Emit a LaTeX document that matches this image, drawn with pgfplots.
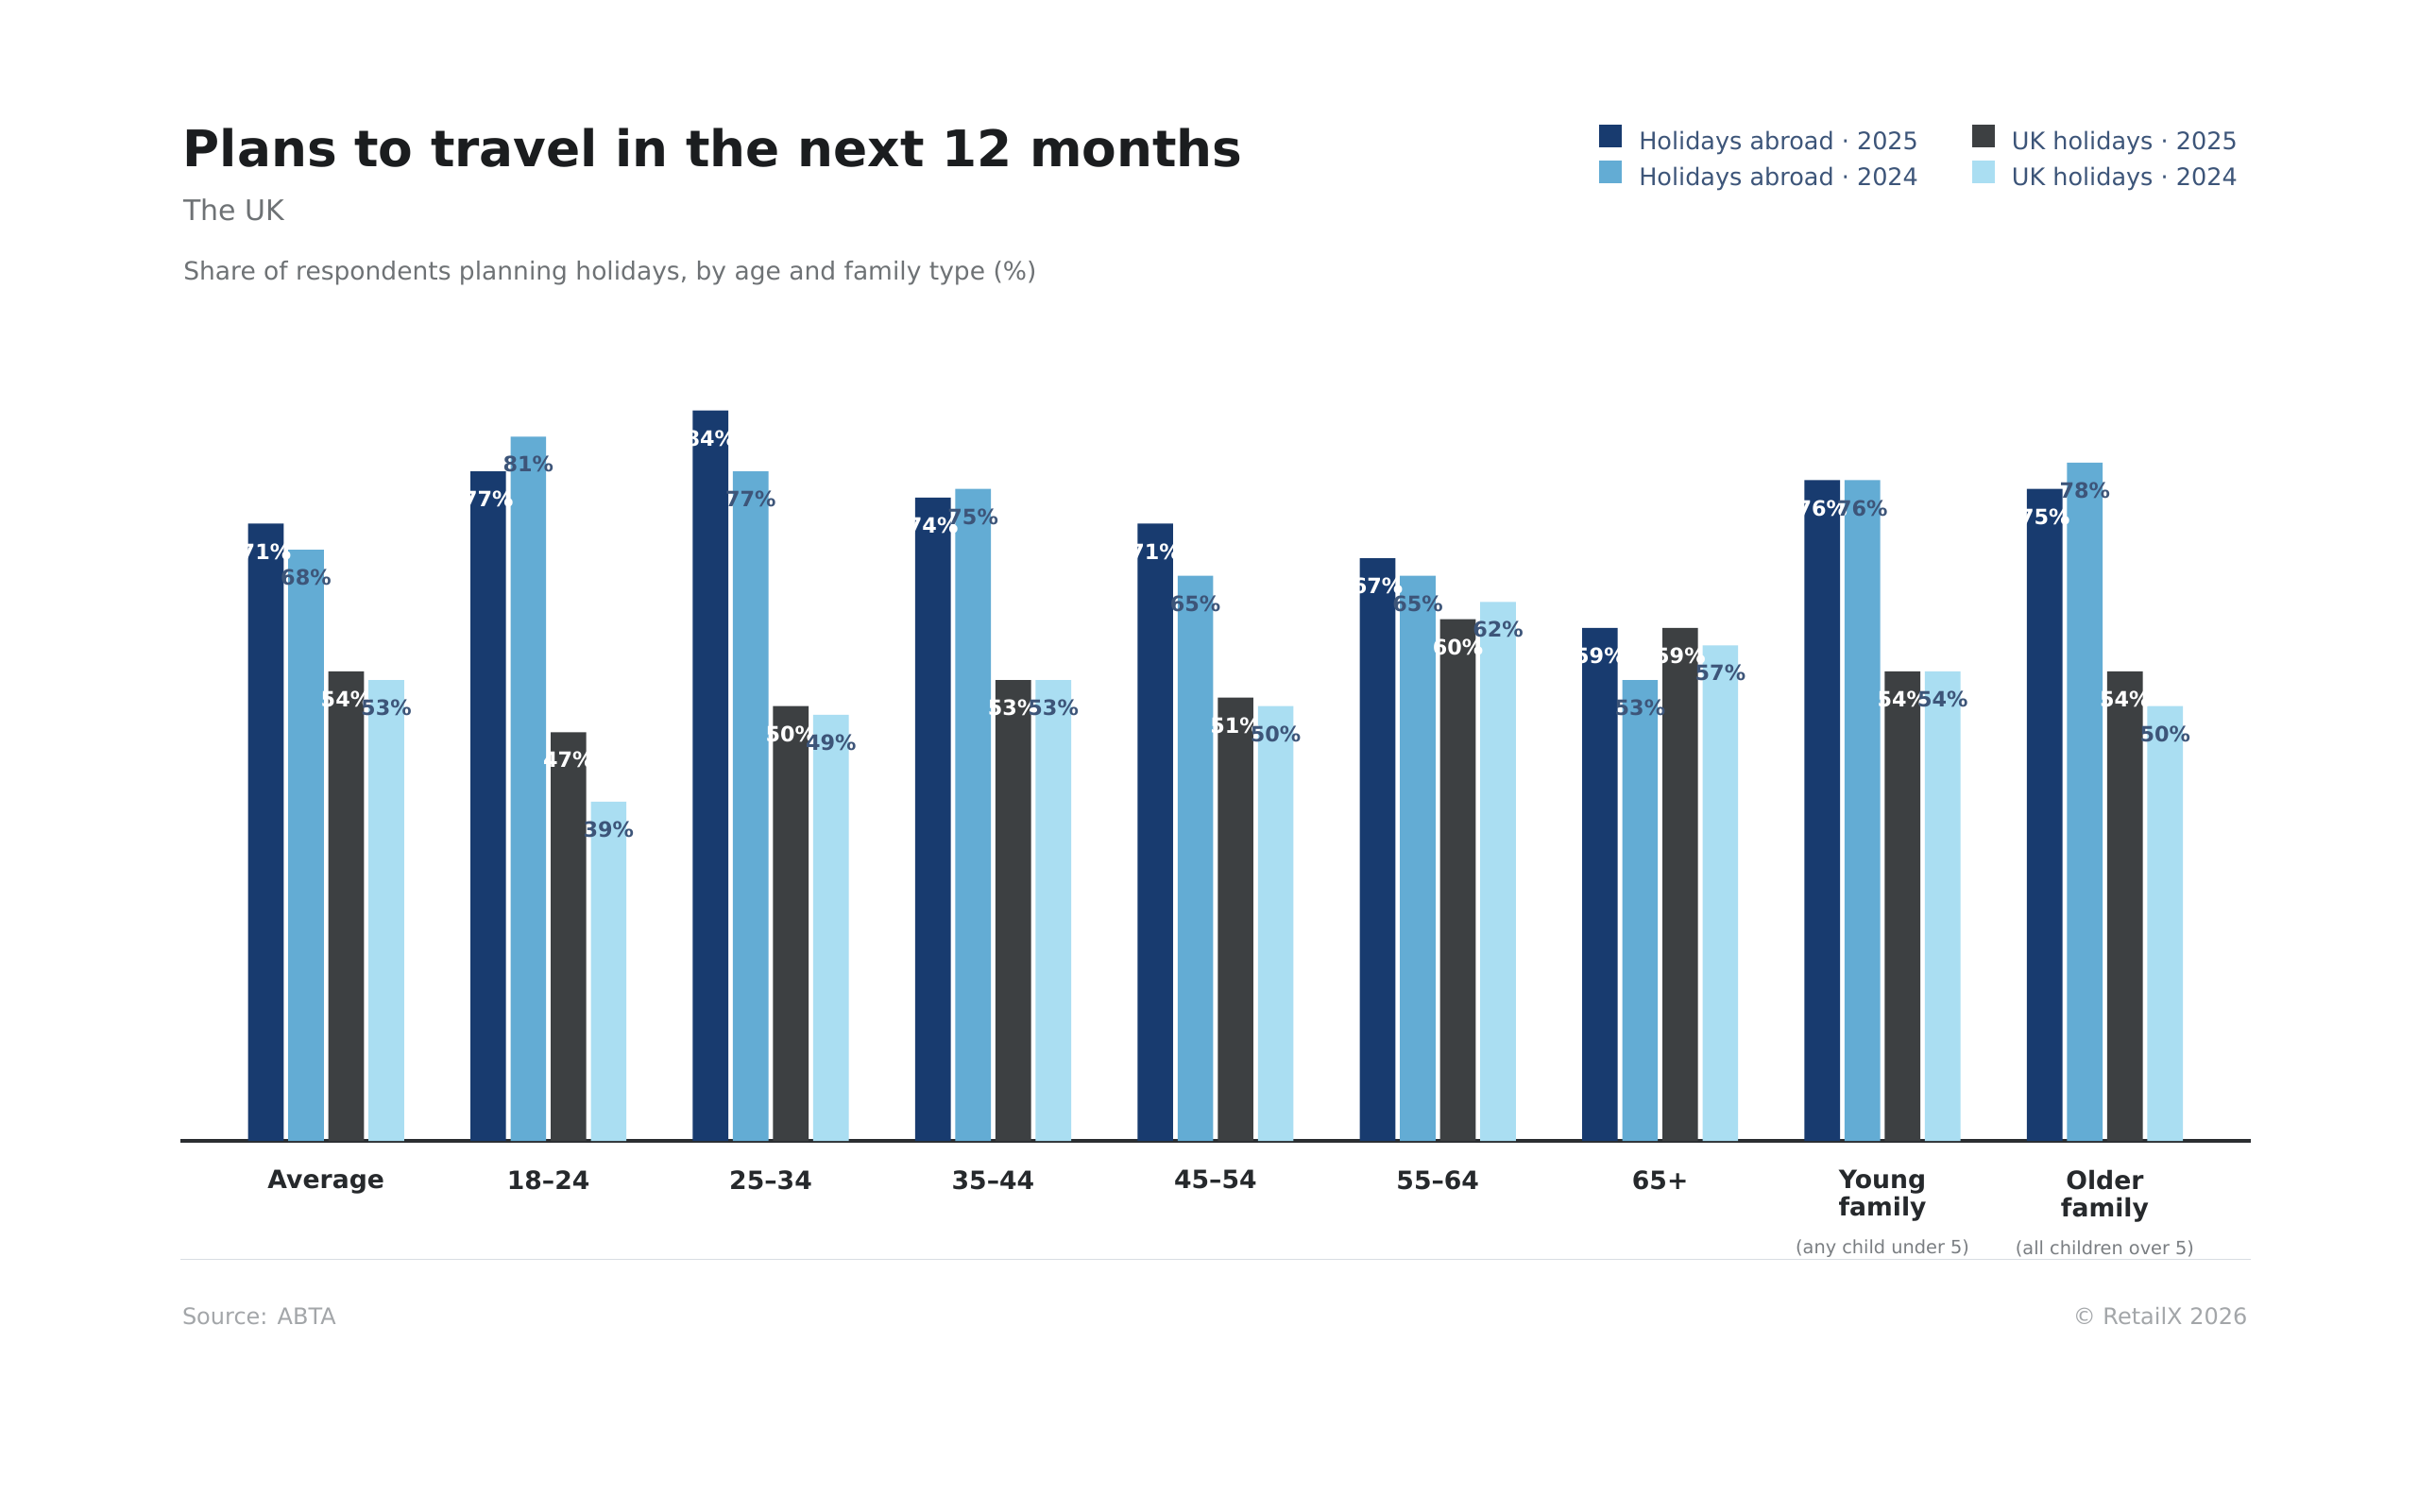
\documentclass[border=0pt]{standalone}
\usepackage{fontspec}
\setmainfont{DejaVu Sans}
\usepackage{pgfplots}
\pgfplotsset{compat=1.18}
\definecolor{cA}{HTML}{183B6F}
\definecolor{cB}{HTML}{63ACD4}
\definecolor{cC}{HTML}{3D4042}
\definecolor{cD}{HTML}{AADEF2}
\definecolor{lbl}{HTML}{3D5579}
\definecolor{lgd}{HTML}{3D5579}
\definecolor{titlec}{HTML}{1B1D1F}
\definecolor{subc}{HTML}{6E7275}
\definecolor{tickc}{HTML}{26292C}
\definecolor{smallc}{HTML}{7A7E82}
\definecolor{srcc}{HTML}{A3A6A9}
\definecolor{sepc}{HTML}{D8DDE2}
\definecolor{basec}{HTML}{2B2E31}
\newcommand{\subl}[1]{{\mdseries\fontsize{5.8}{7}\selectfont\color{smallc}#1}}
\begin{document}
\begin{tikzpicture}
\useasboundingbox (0,0) rectangle (768pt,480pt);
\fill[white] (0,0) rectangle (768pt,480pt);
% titles
\node[anchor=base west, inner sep=0pt, text=titlec, font=\bfseries\fontsize{16}{18}\selectfont] at (57.9pt,427.0pt) {Plans to travel in the next 12 months};
\node[anchor=base west, inner sep=0pt, text=subc, font=\fontsize{9}{11}\selectfont] at (58.1pt,410.0pt) {The UK};
\node[anchor=base west, inner sep=0pt, text=subc, font=\fontsize{7.95}{9.5}\selectfont] at (58.1pt,391.0pt) {Share of respondents planning holidays, by age and family type (\%)};
% footer
\draw[sepc, line width=0.5pt] (57.3pt,80.0pt) -- (714.8pt,80.0pt);
\node[anchor=base west, inner sep=0pt, text=srcc, font=\fontsize{7.2}{9}\selectfont] at (57.7pt,59.3pt) {Source: ABTA};
\node[anchor=base east, inner sep=0pt, text=srcc, font=\fontsize{7.2}{9}\selectfont] at (714.0pt,59.3pt) {© RetailX 2026};
\begin{axis}[
  at={(57.3pt,117.6pt)}, anchor=south west,
  scale only axis, width=657.5pt, height=262.37pt,
  xmin=-0.655, xmax=8.655, ymin=0, ymax=95, enlargelimits=false,
  clip=false,
  axis x line=bottom, axis y line=none,
  x axis line style={draw=basec, line width=1pt, -},
  ytick=\empty,
  xtick={0,1,2,3,4,5,6,7,8},
  major tick length=0pt,
  xticklabels={{Average},{18–24},{25–34},{35–44},{45–54},{55–64},{65+},{Young\\family\\[3.2pt]\subl{(any child under 5)}},{Older\\family\\[3.2pt]\subl{(all children over 5)}}},
  xticklabel style={align=center, anchor=north, inner sep=0pt, yshift=-9.2pt, text=tickc, font=\bfseries\fontsize{8}{8.7}\selectfont},
  ybar=1.45pt, bar width=11.3pt,
  /pgf/number format/assume math mode=true,
  nodes near coords={\pgfmathprintnumber{\pgfplotspointmeta}\%},
  nodes near coords align={center},
  every node near coord/.append style={anchor=center, yshift=-8.85pt, inner sep=0pt, font=\bfseries\fontsize{6.7}{8}\selectfont},
  legend columns=2, transpose legend,
  legend cell align=left,
  legend image code/.code={\fill[#1] (0pt,-1.1pt) rectangle (7.2pt,6.1pt);},
  legend style={draw=none, fill=none, at={(0.6853,1.2306)}, anchor=north west, inner sep=0pt, outer sep=0pt,
    font=\fontsize{7.65}{9}\selectfont, text=lgd,
    nodes={inner sep=0pt, text height=5.8pt, text depth=1.9pt},
    row sep=1.5pt,
    /tikz/every odd column/.append style={column sep=5.5pt},
    /tikz/every even column/.append style={column sep=17pt}},
]
\addplot[fill=cA, draw=none, every node near coord/.append style={text=white}] coordinates {(0,71)(1,77)(2,84)(3,74)(4,71)(5,67)(6,59)(7,76)(8,75)};
\addlegendentry{Holidays abroad · 2025}
\addplot[fill=cB, draw=none, every node near coord/.append style={text=lbl}] coordinates {(0,68)(1,81)(2,77)(3,75)(4,65)(5,65)(6,53)(7,76)(8,78)};
\addlegendentry{Holidays abroad · 2024}
\addplot[fill=cC, draw=none, every node near coord/.append style={text=white}] coordinates {(0,54)(1,47)(2,50)(3,53)(4,51)(5,60)(6,59)(7,54)(8,54)};
\addlegendentry{UK holidays · 2025}
\addplot[fill=cD, draw=none, every node near coord/.append style={text=lbl}] coordinates {(0,53)(1,39)(2,49)(3,53)(4,50)(5,62)(6,57)(7,54)(8,50)};
\addlegendentry{UK holidays · 2024}
\end{axis}
\end{tikzpicture}
\end{document}
